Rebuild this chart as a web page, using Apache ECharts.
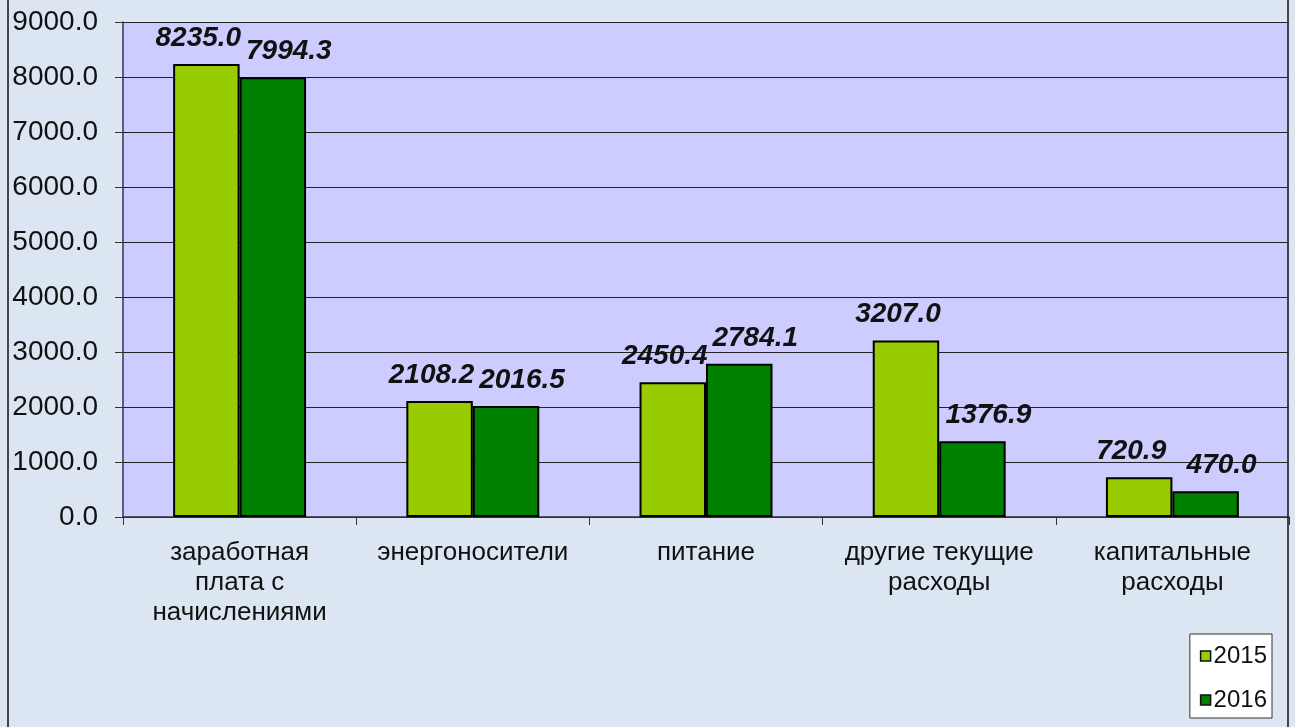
<!DOCTYPE html>
<html>
<head>
<meta charset="utf-8">
<script src="https://cdn.jsdelivr.net/npm/echarts@6/dist/echarts.min.js"></script>
<style>
  html, body { margin: 0; padding: 0; background: #dce6f2; }
  #chart { width: 1295px; height: 727px; }
</style>
</head>
<body>
<div id="chart"></div>
<script>
const categories = [
  'заработная\nплата с\nначислениями',
  'энергоносители',
  'питание',
  'другие текущие\nрасходы',
  'капитальные\nрасходы'
];
const years = ['2015', '2016'];
const values2015 = [8235.0, 2108.2, 2450.4, 3207.0, 720.9];
const values2016 = [7994.3, 2016.5, 2784.1, 1376.9, 470.0];
const colors = ['#99cc00', '#008000'];

const chart = echarts.init(document.getElementById('chart'));

const labelStyle = (dx) => ({
  show: true,
  position: 'top',
  distance: 12,
  offset: [dx, 0],
  fontFamily: 'Liberation Sans, Arial, sans-serif',
  fontSize: 28,
  fontWeight: 'bold',
  fontStyle: 'italic',
  color: '#111',
  formatter: p => p.value.toFixed(1)
});

chart.setOption({
  backgroundColor: '#dce6f2',
  animation: false,
  graphic: [
    {
      type: 'rect',
      shape: { x: 8, y: -2, width: 1280, height: 740 },
      style: { fill: 'none', stroke: '#111', lineWidth: 1.5 },
      silent: true
    }
  ],
  grid: {
    left: 123,
    right: 6,
    top: 22,
    bottom: 210,
    show: true,
    backgroundColor: '#ccccff',
    borderWidth: 0
  },
  legend: {
    orient: 'vertical',
    right: 23,
    bottom: 9,
    data: years,
    itemWidth: 10,
    itemHeight: 10,
    itemGap: 20,
    padding: [10, 5, 6, 10],
    backgroundColor: '#ffffff',
    borderColor: '#333',
    borderWidth: 1,
    icon: 'rect',
    itemStyle: { borderColor: '#111', borderWidth: 1.5 },
    textStyle: {
      fontFamily: 'Liberation Sans, Arial, sans-serif',
      fontSize: 24,
      color: '#111',
      padding: [0, 0, 0, -2]
    }
  },
  xAxis: {
    type: 'category',
    data: categories,
    axisLine: { lineStyle: { color: '#333', width: 1.5 } },
    axisTick: { show: true, length: 8, lineStyle: { color: '#333' } },
    axisLabel: {
      fontFamily: 'Liberation Sans, Arial, sans-serif',
      fontSize: 26,
      color: '#111',
      lineHeight: 30,
      margin: 21,
      interval: 0
    }
  },
  yAxis: {
    type: 'value',
    min: 0,
    max: 9000,
    interval: 1000,
    axisLine: { show: true, lineStyle: { color: '#333355', width: 1.5 } },
    axisTick: { show: true, length: 8, lineStyle: { color: '#333' } },
    splitLine: { lineStyle: { color: '#222', width: 1.2 } },
    axisLabel: {
      fontFamily: 'Liberation Sans, Arial, sans-serif',
      fontSize: 28,
      color: '#111',
      margin: 25,
      formatter: v => v.toFixed(1)
    }
  },
  series: [
    {
      name: years[0],
      type: 'bar',
      data: values2015,
      barGap: '0%',
      barCategoryGap: '43%',
      itemStyle: { color: colors[0], borderColor: '#000', borderWidth: 2 },
      label: labelStyle(-8)
    },
    {
      name: years[1],
      type: 'bar',
      data: values2016,
      itemStyle: { color: colors[1], borderColor: '#000', borderWidth: 2 },
      label: labelStyle(16)
    }
  ]
});
</script>
</body>
</html>
